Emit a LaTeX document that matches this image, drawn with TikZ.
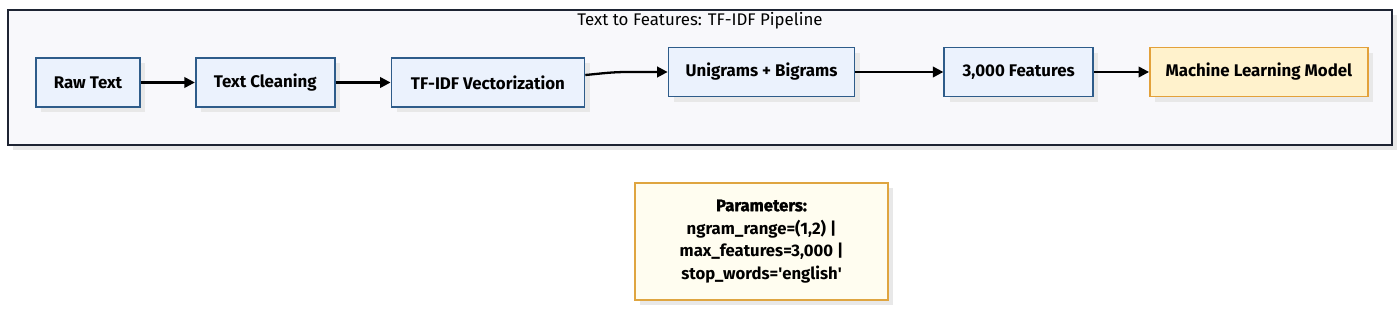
\documentclass[tikz,border=0pt]{standalone}
\usepackage{fontspec}
\setmainfont{Fira Sans}
\usetikzlibrary{positioning,arrows.meta,calc,shadows}
\definecolor{stepfill}{HTML}{EBF2FD}
\definecolor{stepline}{HTML}{2E5C8A}
\definecolor{modelfill}{HTML}{FFF2CC}
\definecolor{modelline}{HTML}{E3A13A}
\definecolor{notefill}{HTML}{FFFDF0}
\definecolor{noteline}{HTML}{DFA540}
\definecolor{framefill}{HTML}{F8F8FB}
\definecolor{frameline}{HTML}{1E2433}

\begin{document}
\begin{tikzpicture}[x=0.02cm, y=-0.02cm, >={Triangle[length=6pt,width=6pt]},
  font=\fontsize{9.6pt}{12pt}\selectfont,
  shade/.style={drop shadow={shadow xshift=3pt, shadow yshift=-3pt, fill=black!9, opacity=1}},
  stepbox/.style={draw=stepline, fill=stepfill, line width=1pt, shade,
    minimum height=0.98cm, inner sep=2pt, font=\fontsize{9.6pt}{12pt}\selectfont\bfseries},
  modelbox/.style={stepbox, draw=modelline, fill=modelfill},
  arr/.style={->, line width=1.3pt}]
  \useasboundingbox (0,0) rectangle (1400,310);

  % cadrul
  \draw[draw=frameline, fill=framefill, line width=1.1pt, shade] (8,10) rectangle (1392,145);
  \node (title) at (700,20.5) {Text to Features: TF-IDF Pipeline};

  % etapele
  \node[stepbox, minimum width=2.08cm] (raw) at (88,82.5) {Raw Text};
  \node[stepbox, minimum width=2.78cm, right=1.08cm of raw] (clean) {Text Cleaning};
  \node[stepbox, minimum width=3.86cm, right=1.1cm of clean] (tfidf) {TF-IDF Vectorization};
  \node[stepbox, minimum width=3.72cm] (uni) at (761.5,72) {Unigrams + Bigrams};
  \node[stepbox, minimum width=2.98cm, right=1.76cm of uni] (feat) {3,000 Features};
  \node[modelbox, minimum width=4.36cm, right=1.1cm of feat] (model) {Machine Learning Model};

  % legaturi
  \draw[arr] (raw) -- (clean);
  \draw[arr] (clean) -- (tfidf);
  \coordinate (bend) at ($(uni.west)+(-40,0)$);
  \draw[arr] ($(tfidf.east)+(0,-7.5)$) to[out=5, in=180] (bend) -- (uni.west);
  \draw[arr] (uni) -- (feat);
  \draw[arr] (feat) -- (model);

  % parametri
  \node[draw=noteline, fill=notefill, line width=1pt, shade, align=center,
    minimum width=5.06cm, minimum height=2.34cm, font=\fontsize{9.5pt}{13pt}\selectfont\bfseries]
    (params) at (761.5,241.5)
    {{\addfontfeature{FakeBold=1.5}Parameters:}\\ ngram\_range=(1,2) |\\ max\_features=3,000 |\\ stop\_words=\textquotesingle english\textquotesingle};
\end{tikzpicture}
\end{document}
